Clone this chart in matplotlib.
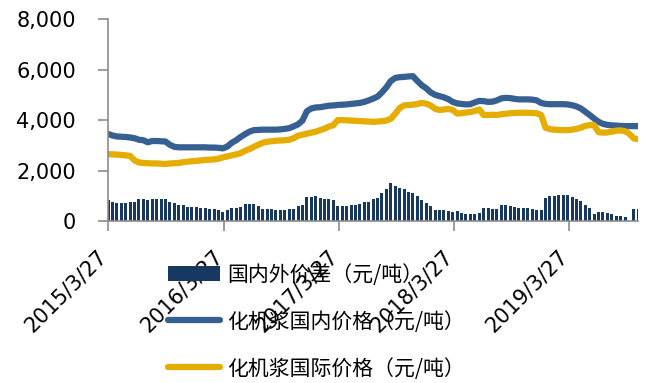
import matplotlib
matplotlib.use("Agg")
import matplotlib.pyplot as plt
import numpy as np
import pandas as pd

# ---- data (biweekly samples) ----
start_date = "2015-03-27"
n_points = 121
dates = pd.date_range(start_date, periods=n_points, freq="14D")

domestic = [3450, 3390, 3350, 3340, 3330, 3310, 3280, 3220, 3200, 3120,
            3170, 3170, 3160, 3150, 3020, 2940, 2920, 2920, 2920, 2920,
            2920, 2920, 2920, 2910, 2910, 2900, 2880, 2950, 3100, 3200,
            3330, 3440, 3540, 3600, 3610, 3620, 3620, 3620, 3620, 3630,
            3650, 3680, 3750, 3830, 3980, 4350, 4460, 4500, 4510, 4540,
            4570, 4580, 4600, 4610, 4620, 4640, 4660, 4680, 4720, 4780,
            4850, 4930, 5100, 5300, 5550, 5670, 5700, 5710, 5730, 5740,
            5550, 5380, 5260, 5100, 5000, 4950, 4900, 4830, 4720, 4660,
            4640, 4620, 4630, 4700, 4760, 4750, 4720, 4730, 4780, 4860,
            4880, 4870, 4840, 4820, 4820, 4820, 4810, 4780, 4680, 4640,
            4630, 4630, 4630, 4630, 4620, 4590, 4540, 4460, 4330, 4200,
            4060, 3930, 3850, 3810, 3790, 3780, 3770, 3760, 3760, 3760,
            3760]

international = [2650, 2640, 2630, 2620, 2600, 2580, 2400, 2320, 2300, 2290,
                 2280, 2280, 2270, 2260, 2280, 2290, 2300, 2330, 2350, 2370,
                 2380, 2400, 2420, 2430, 2440, 2470, 2520, 2560, 2600, 2640,
                 2690, 2780, 2850, 2940, 3020, 3100, 3140, 3160, 3180, 3190,
                 3200, 3220, 3280, 3380, 3420, 3460, 3500, 3540, 3600, 3660,
                 3740, 3800, 4000, 4000, 3990, 3980, 3970, 3960, 3950, 3940,
                 3930, 3940, 3960, 3980, 4050, 4250, 4480, 4580, 4600, 4610,
                 4640, 4680, 4650, 4580, 4450, 4400, 4420, 4440, 4400, 4260,
                 4270, 4300, 4320, 4360, 4420, 4200, 4200, 4210, 4200, 4230,
                 4250, 4270, 4280, 4290, 4290, 4290, 4280, 4270, 4200, 3700,
                 3640, 3620, 3610, 3600, 3600, 3620, 3650, 3700, 3770, 3800,
                 3800, 3520, 3500, 3510, 3540, 3580, 3590, 3560, 3450, 3270,
                 3250]

spread = [820, 760, 720, 720, 730, 740, 770, 870, 880, 840,
          880, 880, 870, 890, 760, 700, 620, 620, 560, 550,
          540, 520, 500, 480, 470, 440, 360, 420, 500, 500,
          560, 660, 680, 680, 600, 480, 470, 460, 440, 430,
          440, 460, 480, 600, 620, 940, 960, 980, 920, 880,
          860, 850, 600, 590, 600, 620, 650, 680, 740, 760,
          870, 920, 1100, 1250, 1500, 1380, 1300, 1280, 1150, 1120,
          1000, 850, 700, 580, 450, 420, 420, 380, 360, 400,
          320, 290, 280, 290, 320, 520, 500, 470, 470, 640,
          630, 600, 540, 500, 500, 500, 490, 450, 440, 900,
          990, 1010, 1020, 1020, 1020, 970, 890, 800, 640, 500,
          280, 340, 340, 330, 260, 200, 180, 170, np.nan, 480,
          480]

labels = ["国内外价差（元/吨）", "化机浆国内价格（元/吨）", "化机浆国际价格（元/吨）"]
xtick_dates = ["2015/3/27", "2016/3/27", "2017/3/27", "2018/3/27", "2019/3/27"]
yticks = [0, 2000, 4000, 6000, 8000]

# ---- style ----
plt.rcParams["font.family"] = ["DejaVu Sans", "Noto Sans CJK SC"]
bar_color = "#173861"
dom_color = "#376092"
intl_color = "#E5AD00"
axis_color = "#8C8C8C"

fig = plt.figure(figsize=(6.46, 3.83), dpi=100)
ax = fig.add_axes([0.1672, 0.423, 0.8204, 0.527])

h_bar = ax.bar(dates, spread, width=9.5, color=bar_color, linewidth=0, label=labels[0])
h_dom, = ax.plot(dates, domestic, color=dom_color, lw=4.5, solid_capstyle="round",
                 label=labels[1])
h_int, = ax.plot(dates, international, color=intl_color, lw=4.5, solid_capstyle="round",
                 label=labels[2])

ax.set_ylim(0, 8000)
ax.set_yticks(yticks)
ax.yaxis.set_major_formatter(matplotlib.ticker.FuncFormatter(lambda v, p: f"{int(v):,}"))
ax.set_xlim(pd.Timestamp("2015-03-27"), pd.Timestamp("2019-10-31"))
xt = [pd.Timestamp(d.replace("/", "-")) for d in xtick_dates]
ax.set_xticks(xt)
ax.set_xticklabels([])

for s in ["top", "right"]:
    ax.spines[s].set_visible(False)
for s in ["left", "bottom"]:
    ax.spines[s].set_color(axis_color)
    ax.spines[s].set_linewidth(1.2)
ax.tick_params(axis="both", colors=axis_color, labelcolor="black", labelsize=15,
               length=7, width=1.2, direction="out")
ax.tick_params(axis="y", pad=16)

# rotated date labels placed below their ticks
for d, txt in zip(xt, xtick_dates):
    ax.annotate(txt, xy=(d, 0), xycoords=("data", "axes fraction"),
                xytext=(-11, -25), textcoords="offset pixels",
                rotation=45, ha="right", va="top", rotation_mode="anchor",
                fontsize=15, color="black", annotation_clip=False)

leg = fig.legend(handles=[h_bar, h_dom, h_int], labels=labels,
                 loc="upper left", bbox_to_anchor=(0.26, 0.312),
                 frameon=False, prop={"family": ["Noto Sans CJK SC", "DejaVu Sans"], "size": 15},
                 handlelength=2.5, handleheight=0.7, handletextpad=0.33,
                 labelspacing=1.2, borderpad=0, borderaxespad=0)

fig.savefig("out.png", dpi=100)
